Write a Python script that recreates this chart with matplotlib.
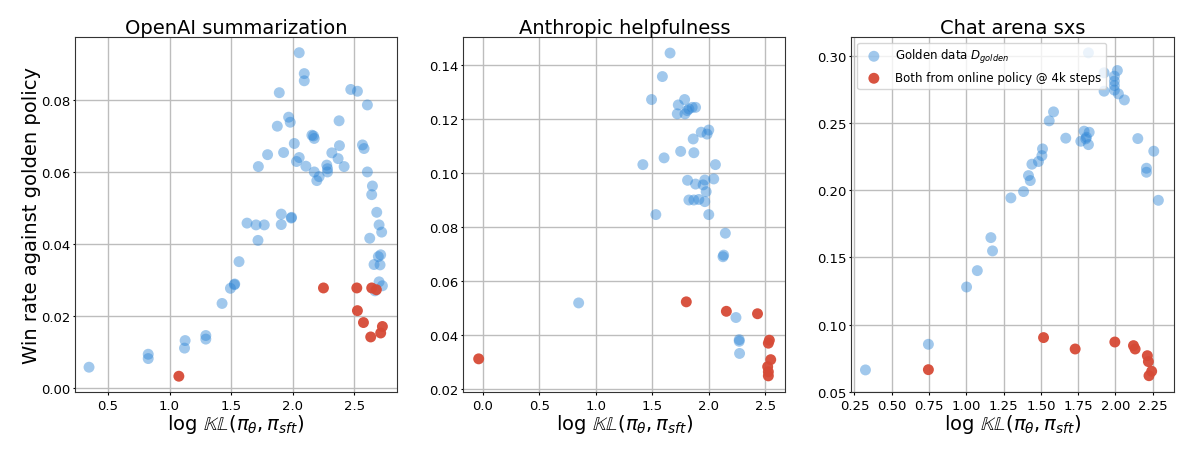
import matplotlib
matplotlib.use("Agg")
import matplotlib.pyplot as plt

# OpenAI summarization
oai_gold_x = [0.346, 0.827, 0.827, 1.127, 1.122, 1.295, 1.295, 1.427, 1.495, 1.527, 1.530,
              1.565, 1.630, 1.703, 1.770, 1.719, 1.908, 1.908, 1.989, 1.992,
              2.054, 2.095, 2.095, 1.892, 2.473, 2.527, 2.608, 1.968, 1.981, 1.876,
              2.378, 2.157, 2.176, 2.170, 2.014, 2.381, 2.568, 2.581, 1.927, 1.797,
              2.319, 2.054, 2.032, 1.722, 2.108, 2.278, 2.284, 2.370, 2.419, 2.176,
              2.216, 2.197, 2.284, 2.608, 2.649, 2.643, 2.684, 2.703, 2.724, 2.627,
              2.716, 2.697, 2.711, 2.662, 2.703, 2.730, 2.670]
oai_gold_y = [0.0058, 0.0094, 0.0082, 0.0132, 0.0111, 0.0146, 0.0136, 0.0235, 0.0277, 0.0287, 0.0289,
              0.0351, 0.0458, 0.0453, 0.0453, 0.0410, 0.0483, 0.0454, 0.0472, 0.0474,
              0.0931, 0.0873, 0.0853, 0.0820, 0.0829, 0.0824, 0.0786, 0.0752, 0.0738, 0.0727,
              0.0742, 0.0702, 0.0693, 0.0700, 0.0679, 0.0673, 0.0675, 0.0665, 0.0654, 0.0648,
              0.0653, 0.0640, 0.0629, 0.0615, 0.0616, 0.0619, 0.0609, 0.0637, 0.0615, 0.0600,
              0.0587, 0.0576, 0.0600, 0.0600, 0.0561, 0.0537, 0.0488, 0.0453, 0.0433, 0.0416,
              0.0370, 0.0365, 0.0342, 0.0343, 0.0295, 0.0284, 0.0270]
oai_online_x = [1.076, 2.251, 2.522, 2.643, 2.681, 2.527, 2.576, 2.635, 2.716, 2.730]
oai_online_y = [0.0033, 0.0278, 0.0278, 0.0278, 0.0273, 0.0215, 0.0182, 0.0142, 0.0153, 0.0171]

# Anthropic helpfulness
ant_gold_x = [1.658, 1.590, 1.494, 1.731, 1.787, 1.722, 1.790, 1.825, 1.854, 1.884, 1.810,
              1.934, 2.001, 1.986, 1.863, 1.752, 1.869, 1.605, 1.417, 2.060, 1.813,
              1.884, 1.951, 1.966, 2.045, 1.978, 1.825, 1.869, 1.913, 1.966, 1.532,
              2.001, 2.148, 2.133, 2.127, 0.848, 2.242, 2.271, 2.271, 2.274]
ant_gold_y = [0.1444, 0.1357, 0.1272, 0.1252, 0.1272, 0.1219, 0.1219, 0.1237, 0.1243, 0.1243, 0.1231,
              0.1151, 0.1159, 0.1144, 0.1126, 0.1080, 0.1075, 0.1056, 0.1031, 0.1031, 0.0973,
              0.0959, 0.0956, 0.0974, 0.0978, 0.0931, 0.0900, 0.0900, 0.0902, 0.0894, 0.0846,
              0.0846, 0.0777, 0.0696, 0.0690, 0.0519, 0.0465, 0.0383, 0.0377, 0.0332]
ant_online_x = [-0.038, 1.802, 2.157, 2.433, 2.538, 2.529, 2.550, 2.523, 2.529, 2.529]
ant_online_y = [0.0312, 0.0523, 0.0488, 0.0479, 0.0381, 0.0370, 0.0309, 0.0283, 0.0264, 0.0249]

# Chat arena sxs
arena_gold_x = [0.324, 0.746, 1.002, 1.074, 1.165, 1.176, 1.299, 1.384, 1.417, 1.429, 1.440,
                1.484, 1.507, 1.511, 1.556, 1.585, 1.667, 1.768, 1.790, 1.801, 1.824,
                1.819, 1.806, 1.819, 1.924, 1.924, 1.993, 1.993, 1.993, 1.993, 2.013,
                2.020, 2.060, 2.150, 2.257, 2.208, 2.208, 2.288]
arena_gold_y = [0.0662, 0.0853, 0.1280, 0.1402, 0.1648, 0.1549, 0.1944, 0.1991, 0.2110, 0.2073, 0.2195,
                0.2215, 0.2259, 0.2309, 0.2518, 0.2585, 0.2389, 0.2366, 0.2441, 0.2384, 0.2433,
                0.2341, 0.2396, 0.3025, 0.2739, 0.2876, 0.2851, 0.2814, 0.2781, 0.2747, 0.2893,
                0.2719, 0.2674, 0.2386, 0.2292, 0.2165, 0.2135, 0.1926]
arena_online_x = [0.746, 1.518, 1.730, 1.996, 2.121, 2.132, 2.214, 2.221, 2.243, 2.225]
arena_online_y = [0.0664, 0.0903, 0.0818, 0.0870, 0.0843, 0.0818, 0.0768, 0.0724, 0.0652, 0.0619]

titles = ["OpenAI summarization", "Anthropic helpfulness", "Chat arena sxs"]
xlims = [(0.232, 2.85), (-0.175, 2.68), (0.23, 2.39)]
ylims = [(-0.0011, 0.0975), (0.0189, 0.1504), (0.0497, 0.3144)]
xticks = [[0.5, 1.0, 1.5, 2.0, 2.5], [0.0, 0.5, 1.0, 1.5, 2.0, 2.5],
          [0.25, 0.5, 0.75, 1.0, 1.25, 1.5, 1.75, 2.0, 2.25]]
yticks = [[0.0, 0.02, 0.04, 0.06, 0.08], [0.02, 0.04, 0.06, 0.08, 0.10, 0.12, 0.14],
          [0.05, 0.10, 0.15, 0.20, 0.25, 0.30]]
gold = [(oai_gold_x, oai_gold_y), (ant_gold_x, ant_gold_y), (arena_gold_x, arena_gold_y)]
online = [(oai_online_x, oai_online_y), (ant_online_x, ant_online_y), (arena_online_x, arena_online_y)]

blue = "#2f86d6"
red = "#d64a36"

fig, axes = plt.subplots(1, 3, figsize=(12, 4.56), dpi=100)
plt.subplots_adjust(left=0.0625, right=0.978, bottom=0.138, top=0.917, wspace=0.205)

for i, ax in enumerate(axes):
    ax.scatter(gold[i][0], gold[i][1], s=62, color=blue, alpha=0.45, edgecolors="none",
               label="Golden data $D_{golden}$", zorder=3)
    ax.scatter(online[i][0], online[i][1], s=62, color=red, alpha=0.95, edgecolors="none",
               label="Both from online policy @ 4k steps", zorder=3)
    ax.set_title(titles[i], fontsize=14, pad=3)
    ax.set_xlim(*xlims[i])
    ax.set_ylim(*ylims[i])
    ax.set_xticks(xticks[i])
    ax.set_yticks(yticks[i])
    ax.tick_params(labelsize=9.5, length=1.8)
    ax.tick_params(axis="y", pad=1.5)
    ax.tick_params(axis="x", pad=3.2)
    ax.grid(True, color="#bdbdbd", linewidth=1)
    ax.set_axisbelow(True)
    ax.set_xlabel(r"$\log\,\mathbb{KL}(\pi_\theta, \pi_{sft})$", fontsize=14, labelpad=0)
    for sp in ax.spines.values():
        sp.set_color("#333333")

axes[0].set_ylabel("Win rate against golden policy", fontsize=14, labelpad=0)
axes[2].legend(loc="upper left", fontsize=8.5)

plt.savefig("out.png", dpi=100)
